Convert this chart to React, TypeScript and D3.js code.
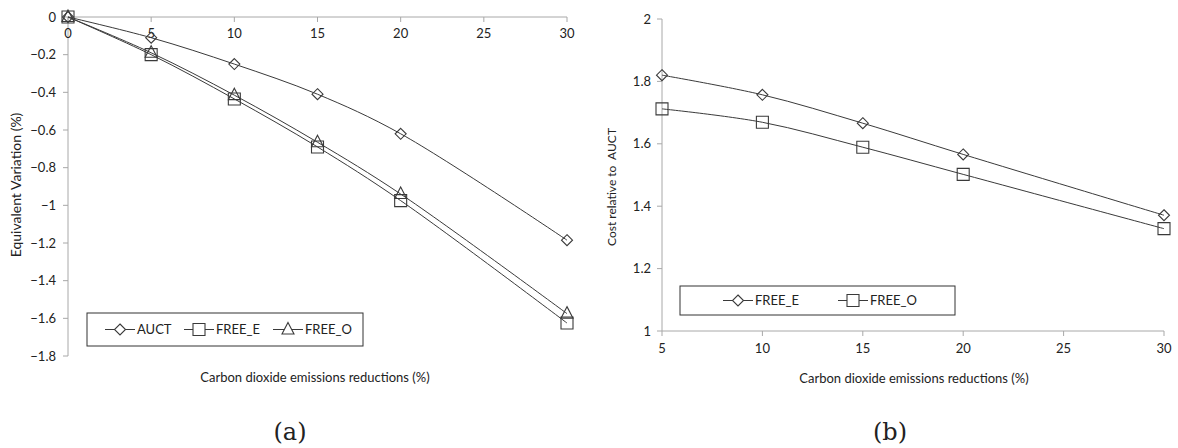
import * as d3 from "d3";

// left panel (a): equivalent variation
const reductionsA = [0, 5, 10, 15, 20, 30];
const auct = [0, -0.11, -0.25, -0.41, -0.62, -1.185];
const freeE_A = [0, -0.2, -0.435, -0.69, -0.975, -1.625];
const freeO_A = [0, -0.19, -0.415, -0.665, -0.94, -1.575];
const xTicksA = [0, 5, 10, 15, 20, 25, 30];
const yTicksA = [0, -0.2, -0.4, -0.6, -0.8, -1, -1.2, -1.4, -1.6, -1.8];

// right panel (b): cost relative to AUCT
const reductionsB = [5, 10, 15, 20, 30];
const freeE_B = [1.82, 1.757, 1.666, 1.566, 1.371];
const freeO_B = [1.712, 1.669, 1.589, 1.502, 1.328];
const xTicksB = [5, 10, 15, 20, 25, 30];
const yTicksB = [1, 1.2, 1.4, 1.6, 1.8, 2];

const FONT = "Lato, 'Open Sans', sans-serif";
const TEXT = "#222";
const AXIS = "#a8a8a8";
const LINE = "#3a3a3a";
const FS = 13;

type Marker = "diamond" | "square" | "triangle";

function markerPath(kind: Marker) {
  if (kind === "diamond") return "M0,-5.5L5.5,0L0,5.5L-5.5,0Z";
  if (kind === "square") return "M-6,-6H6V6H-6Z";
  return "M0,-7L6,4.5H-6Z";
}

function Series({ xs, ys, x, y, kind }: any) {
  const pts = xs.map((v: number, i: number) => [x(v), y(ys[i])] as [number, number]);
  const line = d3.line().curve(d3.curveCatmullRom.alpha(0.5))(pts);
  return (
    <g>
      <path d={line || ""} fill="none" stroke={LINE} strokeWidth={1} />
      {pts.map((p: [number, number], i: number) => (
        <path
          key={i}
          d={markerPath(kind)}
          transform={`translate(${p[0]},${p[1]})`}
          fill="white"
          fillOpacity={0}
          stroke={LINE}
          strokeWidth={1.1}
        />
      ))}
    </g>
  );
}

function LegendItem({ x, y, kind, label }: any) {
  return (
    <g transform={`translate(${x},${y})`}>
      <line x1={-15} x2={15} y1={0} y2={0} stroke={LINE} strokeWidth={1} />
      <path d={markerPath(kind)} fill="white" stroke={LINE} strokeWidth={1.1} />
      <text x={17} y={4.5} fontSize={FS} fill={TEXT} fontFamily={FONT}>
        {label}
      </text>
    </g>
  );
}

function PanelA() {
  const x = d3.scaleLinear().domain([0, 30]).range([68, 567]);
  const y = d3.scaleLinear().domain([0, -1.8]).range([17, 356]);
  const fmt = (v: number) => (v === 0 ? "0" : d3.format("")(+v.toFixed(1)));
  return (
    <g>
      <line x1={x(0)} x2={x(30)} y1={y(0)} y2={y(0)} stroke={AXIS} />
      <line x1={x(0)} x2={x(0)} y1={y(0)} y2={y(-1.8)} stroke={AXIS} />
      {xTicksA.map((t) => (
        <g key={t}>
          <line x1={x(t)} x2={x(t)} y1={y(0)} y2={y(0) + 5} stroke={AXIS} />
          <text x={x(t)} y={y(0) + 21} textAnchor="middle" fontSize={FS} fill={TEXT} fontFamily={FONT}>
            {t}
          </text>
        </g>
      ))}
      {yTicksA.map((t) => (
        <g key={t}>
          <line x1={x(0) - 5} x2={x(0)} y1={y(t)} y2={y(t)} stroke={AXIS} />
          <text x={x(0) - 12} y={y(t) + 4.5} textAnchor="end" fontSize={FS} fill={TEXT} fontFamily={FONT}>
            {fmt(t)}
          </text>
        </g>
      ))}
      <text
        transform={`translate(21,185) rotate(-90)`}
        textAnchor="middle"
        fontSize={14}
        fill={TEXT}
        fontFamily={FONT}
      >
        Equivalent Variation (%)
      </text>
      <text x={315} y={382} textAnchor="middle" fontSize={FS} fill={TEXT} fontFamily={FONT}>
        Carbon dioxide emissions reductions (%)
      </text>
      <Series xs={reductionsA} ys={auct} x={x} y={y} kind="diamond" />
      <Series xs={reductionsA} ys={freeE_A} x={x} y={y} kind="square" />
      <Series xs={reductionsA} ys={freeO_A} x={x} y={y} kind="triangle" />
      <rect x={87} y={313} width={276} height={33} fill="white" stroke="#333" strokeWidth={1} />
      <LegendItem x={120} y={329.5} kind="diamond" label="AUCT" />
      <LegendItem x={199} y={329.5} kind="square" label="FREE_E" />
      <LegendItem x={288} y={329.5} kind="triangle" label="FREE_O" />
      <text x={290} y={440} textAnchor="middle" fontSize={24} fill={TEXT} fontFamily="'DejaVu Serif', serif">
        (a)
      </text>
    </g>
  );
}

function PanelB() {
  const x = d3.scaleLinear().domain([5, 30]).range([662, 1164]);
  const y = d3.scaleLinear().domain([1, 2]).range([331, 19]);
  const fmt = (v: number) => d3.format("")(+v.toFixed(1));
  return (
    <g>
      <line x1={x(5)} x2={x(30)} y1={y(1)} y2={y(1)} stroke={AXIS} />
      <line x1={x(5)} x2={x(5)} y1={y(1)} y2={y(2)} stroke={AXIS} />
      {xTicksB.map((t) => (
        <g key={t}>
          <line x1={x(t)} x2={x(t)} y1={y(1)} y2={y(1) + 5} stroke={AXIS} />
          <text x={x(t)} y={y(1) + 22} textAnchor="middle" fontSize={FS} fill={TEXT} fontFamily={FONT}>
            {t}
          </text>
        </g>
      ))}
      {yTicksB.map((t) => (
        <g key={t}>
          <line x1={x(5) - 5} x2={x(5)} y1={y(t)} y2={y(t)} stroke={AXIS} />
          <text x={x(5) - 11} y={y(t) + 4.5} textAnchor="end" fontSize={FS} fill={TEXT} fontFamily={FONT}>
            {fmt(t)}
          </text>
        </g>
      ))}
      <text
        transform={`translate(616,${y(1.5) + 12}) rotate(-90)`}
        textAnchor="middle"
        fontSize={12}
        fill={TEXT}
        fontFamily={FONT}
      >
        {"Cost relative to\u00A0\u00A0AUCT"}
      </text>
      <text x={914} y={383} textAnchor="middle" fontSize={FS} fill={TEXT} fontFamily={FONT}>
        Carbon dioxide emissions reductions (%)
      </text>
      <Series xs={reductionsB} ys={freeE_B} x={x} y={y} kind="diamond" />
      <Series xs={reductionsB} ys={freeO_B} x={x} y={y} kind="square" />
      <rect x={680} y={286} width={275} height={29} fill="white" stroke="#333" strokeWidth={1} />
      <LegendItem x={738} y={300.5} kind="diamond" label="FREE_E" />
      <LegendItem x={853} y={300.5} kind="square" label="FREE_O" />
      <text x={890} y={440} textAnchor="middle" fontSize={24} fill={TEXT} fontFamily="'DejaVu Serif', serif">
        (b)
      </text>
    </g>
  );
}

export default function App() {
  return (
    <svg
      width={1178}
      height={448}
      style={{ position: "absolute", left: 0, top: 0, background: "white" }}
    >
      <rect width={1178} height={448} fill="white" />
      <PanelA />
      <PanelB />
    </svg>
  );
}
